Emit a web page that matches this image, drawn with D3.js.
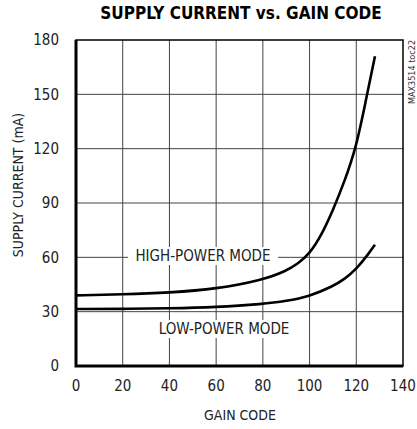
<!DOCTYPE html>
<html>
<head>
<meta charset="utf-8">
<script src="https://cdn.jsdelivr.net/npm/d3@7"></script>
<style>
  body { margin: 0; background: #fff; }
  svg text { font-family: "Liberation Sans Narrow", "DejaVu Sans Condensed", "Liberation Sans", sans-serif; }
</style>
</head>
<body>
<svg id="chart" width="417" height="429"></svg>
<script>
// ===== Data =====
const xTicks = [0, 20, 40, 60, 80, 100, 120, 140];
const yTicks = [0, 30, 60, 90, 120, 150, 180];

// gain code / supply current (mA)
const highCode = [0, 20, 40, 60, 80, 90, 95, 100, 105, 110, 115, 120, 124, 128];
const highCurrent = [39, 39.5, 40.5, 42.5, 47.5, 52.5, 56.5, 62, 72, 86, 102, 121, 146, 171];
const lowCode = [0, 20, 40, 60, 80, 90, 100, 110, 115, 120, 125, 128];
const lowCurrent = [31.5, 31.5, 31.8, 32.5, 34.2, 35.8, 38.5, 44, 48, 53.5, 61.5, 67];

// ===== Layout =====
const svg = d3.select("#chart");
const plotL = 76, plotR = 403, plotT = 40, plotB = 366;

const x = d3.scaleLinear().domain([0, 140]).range([plotL, plotR]);
const y = d3.scaleLinear().domain([0, 180]).range([plotB, plotT]);

// Grid
const grid = svg.append("g");
grid.selectAll(".vgrid")
  .data(xTicks.slice(1, -1))
  .enter().append("line")
  .attr("x1", d => x(d)).attr("x2", d => x(d))
  .attr("y1", plotT).attr("y2", plotB)
  .attr("stroke", "#444").attr("stroke-width", 1);
grid.selectAll(".hgrid")
  .data(yTicks.slice(1, -1))
  .enter().append("line")
  .attr("x1", plotL).attr("x2", plotR)
  .attr("y1", d => y(d)).attr("y2", d => y(d))
  .attr("stroke", "#444").attr("stroke-width", 1);

// Frame: top / right thin, left / bottom heavy
svg.append("rect")
  .attr("x", plotL).attr("y", plotT)
  .attr("width", plotR - plotL).attr("height", plotB - plotT)
  .attr("fill", "none").attr("stroke", "#000").attr("stroke-width", 1.5);
svg.append("path")
  .attr("d", `M${plotL},${plotT}V${plotB}H${plotR}`)
  .attr("fill", "none").attr("stroke", "#000").attr("stroke-width", 3);

// Curve labels with white backing
function curveLabel(text, cx, cy, w) {
  svg.append("rect")
    .attr("x", cx - w / 2).attr("y", cy - 9)
    .attr("width", w).attr("height", 18)
    .attr("fill", "#fff");
  svg.append("text")
    .attr("x", cx).attr("y", cy)
    .attr("dy", "0.36em")
    .attr("text-anchor", "middle")
    .attr("font-size", "15px")
    .attr("fill", "#222")
    .text(text);
}
curveLabel("HIGH-POWER MODE", 203, 256, 150);
curveLabel("LOW-POWER MODE", 224, 329, 138);

// Curves
const line = d3.line()
  .x(d => x(d[0]))
  .y(d => y(d[1]))
  .curve(d3.curveBasis);

svg.append("path")
  .datum(d3.zip(highCode, highCurrent))
  .attr("d", line)
  .attr("fill", "none").attr("stroke", "#000").attr("stroke-width", 2.6);
svg.append("path")
  .datum(d3.zip(lowCode, lowCurrent))
  .attr("d", line)
  .attr("fill", "none").attr("stroke", "#000").attr("stroke-width", 2.6);

// Tick labels
svg.selectAll(".ylab")
  .data(yTicks)
  .enter().append("text")
  .attr("x", 59).attr("y", d => y(d))
  .attr("dy", "0.36em")
  .attr("text-anchor", "end")
  .attr("font-size", "15px").attr("fill", "#222")
  .text(d => d);
svg.selectAll(".xlab")
  .data(xTicks)
  .enter().append("text")
  .attr("x", d => x(d)).attr("y", 386)
  .attr("dy", "0.36em")
  .attr("text-anchor", "middle")
  .attr("font-size", "15px").attr("fill", "#222")
  .text(d => d);

// Titles
svg.append("text")
  .attr("x", 241).attr("y", 19)
  .attr("text-anchor", "middle")
  .attr("font-size", "17px").attr("font-weight", "bold")
  .text("SUPPLY CURRENT vs. GAIN CODE");
svg.append("text")
  .attr("x", 240).attr("y", 420)
  .attr("text-anchor", "middle")
  .attr("font-size", "14px").attr("fill", "#222")
  .text("GAIN CODE");
svg.append("text")
  .attr("transform", "translate(23,185) rotate(-90)")
  .attr("text-anchor", "middle")
  .attr("font-size", "14px").attr("fill", "#222")
  .text("SUPPLY CURRENT (mA)");
svg.append("text")
  .attr("transform", "translate(415,72) rotate(-90)")
  .attr("text-anchor", "middle")
  .attr("font-size", "9px").attr("fill", "#333")
  .text("MAX3514 toc22");
</script>
</body>
</html>
